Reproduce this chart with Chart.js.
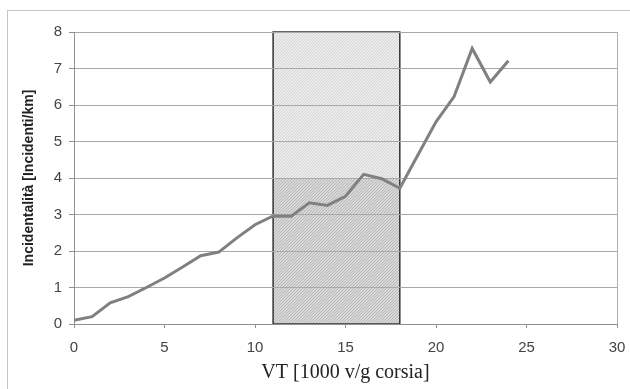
<!DOCTYPE html>
<html>
<head>
<meta charset="utf-8">
<script src="https://cdn.jsdelivr.net/npm/chart.js@4/dist/chart.umd.min.js"></script>
<style>
  html, body { margin: 0; padding: 0; background: #ffffff; }
  canvas { display: block; }
</style>
</head>
<body>
<canvas id="c" width="630" height="389"></canvas>
<script>
// ---- data ----
const vtValues = [0, 1, 2, 3, 4, 5, 6, 7, 8, 9, 10, 11, 12, 13, 14, 15, 16, 17, 18, 19, 20, 21, 22, 23, 24];
const incidentValues = [0.1, 0.2, 0.58, 0.75, 1.0, 1.26, 1.56, 1.87, 1.97, 2.36, 2.72, 2.96, 2.95, 3.32, 3.25, 3.5, 4.1, 3.98, 3.72, 4.63, 5.54, 6.23, 7.55, 6.63, 7.21];
const zoneX = [11, 18];          // shaded band on x
const zoneLowerY = [0, 4];       // darker hatched part
const zoneUpperY = [4, 8];       // lighter hatched part
const xTicks = [0, 5, 10, 15, 20, 25, 30];
const yTicks = [0, 1, 2, 3, 4, 5, 6, 7, 8];
const xTitle = 'VT [1000 v/g corsia]';
const yTitle = 'Incidentalità [Incidenti/km]';

function makePattern(base, line, step, width) {
  const c = document.createElement('canvas');
  c.width = step; c.height = step;
  const g = c.getContext('2d');
  g.fillStyle = base;
  g.fillRect(0, 0, step, step);
  g.strokeStyle = line;
  g.lineWidth = width;
  g.beginPath();
  g.moveTo(-1, step + 1); g.lineTo(step + 1, -1);
  g.moveTo(-1, 1); g.lineTo(1, -1);
  g.moveTo(step - 1, step + 1); g.lineTo(step + 1, step - 1);
  g.stroke();
  return g.createPattern(c, 'repeat');
}

const zonePlugin = {
  id: 'zone',
  beforeDraw(chart) {
    const ctx = chart.ctx;
    ctx.save();
    ctx.fillStyle = '#ffffff';
    ctx.fillRect(0, 0, chart.width, chart.height);
    ctx.strokeStyle = '#c4c4c4';
    ctx.lineWidth = 1;
    ctx.strokeRect(7.5, 10.5, 700, 500);
    const xs = chart.scales.x, ys = chart.scales.y;
    const x0 = xs.getPixelForValue(zoneX[0]), x1 = xs.getPixelForValue(zoneX[1]);
    const yl0 = ys.getPixelForValue(zoneLowerY[0]), yl1 = ys.getPixelForValue(zoneLowerY[1]);
    const yu0 = ys.getPixelForValue(zoneUpperY[0]), yu1 = ys.getPixelForValue(zoneUpperY[1]);
    ctx.fillStyle = makePattern('#ececec', '#d4d4d4', 3, 1);
    ctx.fillRect(x0, yu1, x1 - x0, yu0 - yu1);
    ctx.fillStyle = makePattern('#d8d8d8', '#b8b8b8', 3, 1);
    ctx.fillRect(x0, yl1, x1 - x0, yl0 - yl1);
    ctx.strokeStyle = '#333333';
    ctx.lineWidth = 1.5;
    ctx.strokeRect(x0, yu1, x1 - x0, yl0 - yu1);
    ctx.restore();
  }
};

const points = vtValues.map((v, i) => ({ x: v, y: incidentValues[i] }));

new Chart(document.getElementById('c'), {
  type: 'scatter',
  data: {
    datasets: [{
      data: points,
      showLine: true,
      borderColor: '#808080',
      borderWidth: 3,
      pointRadius: 0,
      fill: false,
      tension: 0
    }]
  },
  options: {
    responsive: false,
    devicePixelRatio: 1,
    animation: false,
    layout: { padding: { left: 0, right: 13, top: 32, bottom: 0 } },
    plugins: { legend: { display: false }, tooltip: { enabled: false } },
    scales: {
      x: {
        type: 'linear',
        min: 0, max: 30,
        afterFit(scale) { scale.height = 65; scale.paddingLeft = 0; scale.paddingRight = 0; },
        afterBuildTicks(scale) { scale.ticks = xTicks.map(v => ({ value: v })); },
        ticks: {
          color: '#444444',
          font: { family: '"Liberation Sans", Arial, sans-serif', size: 15 },
          padding: 11,
          maxRotation: 0
        },
        grid: {
          color: (c) => (c.tick && c.tick.value === 30) ? '#b0b0b0' : 'rgba(0,0,0,0)',
          tickColor: '#909090',
          tickLength: 4,
          lineWidth: 1
        },
        border: { color: '#909090', width: 1 },
        title: {
          display: true,
          text: xTitle,
          color: '#222222',
          font: { family: '"Liberation Serif", "Times New Roman", serif', size: 20 },
          padding: { top: 0, bottom: 4 }
        }
      },
      y: {
        type: 'linear',
        min: 0, max: 8,
        afterFit(scale) { scale.width = 74; scale.paddingTop = 0; scale.paddingBottom = 0; },
        afterBuildTicks(scale) { scale.ticks = yTicks.map(v => ({ value: v })); },
        ticks: {
          color: '#444444',
          font: { family: '"Liberation Sans", Arial, sans-serif', size: 15 },
          padding: 7
        },
        grid: {
          color: '#a8a8a8',
          tickColor: '#909090',
          tickLength: 5,
          lineWidth: 1
        },
        border: { color: '#909090', width: 1 },
        title: {
          display: true,
          text: yTitle,
          color: '#222222',
          font: { family: '"Liberation Sans", Arial, sans-serif', size: 14, weight: 'bold' },
          padding: { top: 21, bottom: 0 }
        }
      }
    }
  },
  plugins: [zonePlugin]
});
</script>
</body>
</html>
